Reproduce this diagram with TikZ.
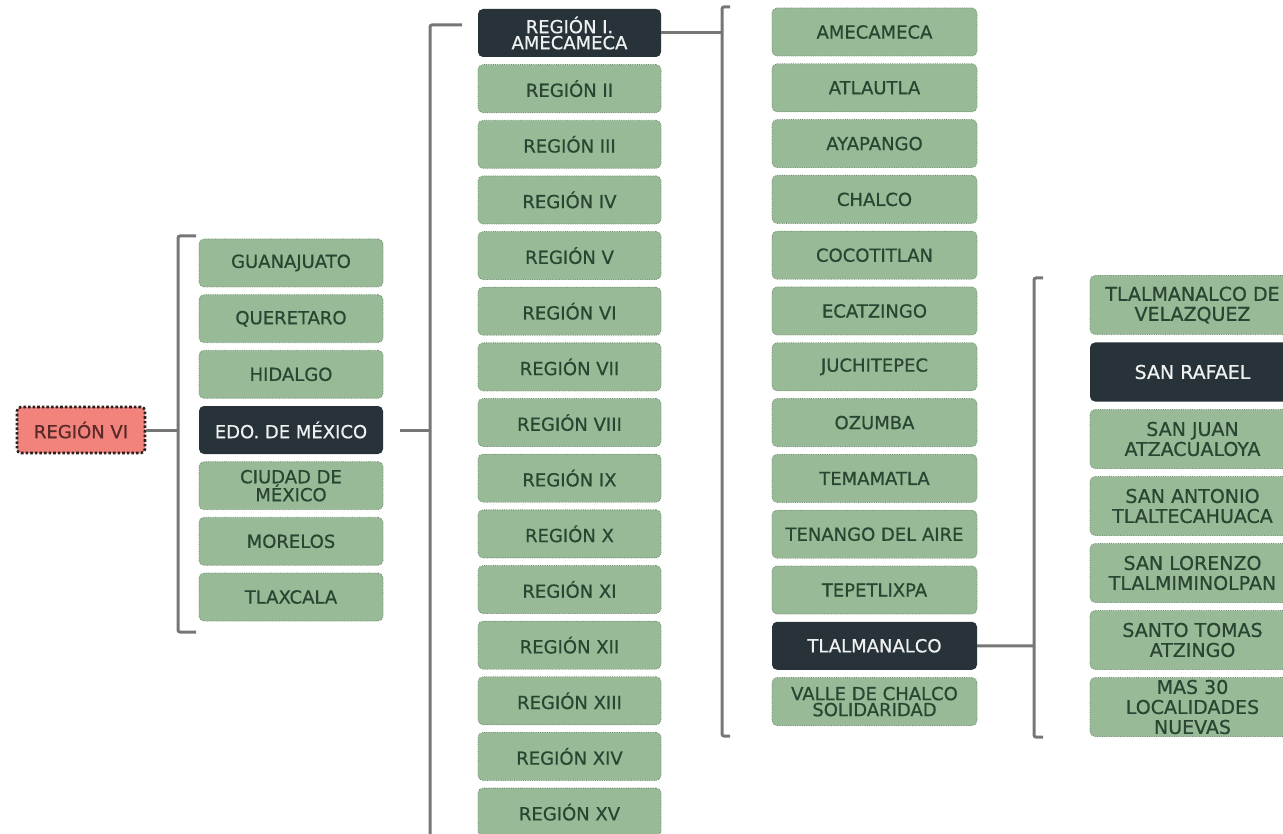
\documentclass[tikz,border=0pt]{standalone}
\usepackage{fontspec}
\setmainfont{DejaVu Sans}
\newfontfamily\boxfont{DejaVu Sans}[FakeBold=0.7]
\usepackage{tikz}
\usepackage{xcolor}
\usetikzlibrary{positioning,calc}
\definecolor{leafbg}{HTML}{99BA97}
\definecolor{leafline}{HTML}{6F8E6E}
\definecolor{leafink}{HTML}{2A4632}
\definecolor{hubbg}{HTML}{273239}
\definecolor{hubink}{HTML}{EEF1F0}
\definecolor{rootbg}{HTML}{F2827C}
\definecolor{rootline}{HTML}{2A2220}
\definecolor{rootink}{HTML}{5A2A28}
\definecolor{linkgray}{HTML}{767676}
\tikzset{
  leafbox/.style={draw=leafline,fill=leafbg,densely dotted,line width=0.8pt,
                  rounded corners=5pt,align=center,inner sep=0pt,
                  minimum height=48pt,text=leafink,
                  font=\boxfont\fontsize{18}{16}\selectfont},
  hubbox/.style={draw=none,fill=hubbg,rounded corners=5pt,align=center,
                 inner sep=0pt,minimum height=48pt,text=hubink,
                 font=\boxfont\fontsize{18}{16}\selectfont},
  rootbox/.style={draw=rootline,fill=rootbg,dotted,line width=2.6pt,
                  rounded corners=4pt,align=center,inner sep=0pt,
                  minimum width=128pt,minimum height=46pt,text=rootink,
                  font=\boxfont\fontsize{18}{16}\selectfont},
  stateW/.style={minimum width=184pt},
  regW/.style={minimum width=183pt},
  munW/.style={minimum width=205pt},
  locW/.style={minimum width=205pt,minimum height=59pt,
               font=\boxfont\fontsize{19}{20}\selectfont},
  link/.style={draw=linkgray,line width=3pt},
  bracket/.style={draw=linkgray,line width=3pt,rounded corners=2pt}
}

\begin{document}
\begin{tikzpicture}[x=1pt,y=-1pt]
  \useasboundingbox (0,0) rectangle (1283,834);
  \clip (0,0) rectangle (1283,834);

  % Root
  \node[rootbox] (reg6) at (81,430) {REGIÓN VI};

  % States
  \node[leafbox,stateW] (gto) at (291,263) {GUANAJUATO};
  \node[leafbox,stateW] (qro) at (291,318.7) {QUERETARO};
  \node[leafbox,stateW] (hgo) at (291,374.3) {HIDALGO};
  \node[hubbox,stateW] (edomex) at (291,430) {EDO. DE MÉXICO};
  \node[leafbox,stateW] (cdmx) at (291,485.7) {CIUDAD DE\\MÉXICO};
  \node[leafbox,stateW] (mor) at (291,541.3) {MORELOS};
  \node[leafbox,stateW] (tlax) at (291,597) {TLAXCALA};

  % Regions of Edo. de México
  \node[hubbox,regW] (r1) at (569.5,33) {REGIÓN I.\\AMECAMECA};
  \node[leafbox,regW] (r2) at (569.5,88.65) {REGIÓN II};
  \node[leafbox,regW] (r3) at (569.5,144.3) {REGIÓN III};
  \node[leafbox,regW] (r4) at (569.5,199.95) {REGIÓN IV};
  \node[leafbox,regW] (r5) at (569.5,255.6) {REGIÓN V};
  \node[leafbox,regW] (r6) at (569.5,311.25) {REGIÓN VI};
  \node[leafbox,regW] (r7) at (569.5,366.9) {REGIÓN VII};
  \node[leafbox,regW] (r8) at (569.5,422.55) {REGIÓN VIII};
  \node[leafbox,regW] (r9) at (569.5,478.2) {REGIÓN IX};
  \node[leafbox,regW] (r10) at (569.5,533.85) {REGIÓN X};
  \node[leafbox,regW] (r11) at (569.5,589.5) {REGIÓN XI};
  \node[leafbox,regW] (r12) at (569.5,645.15) {REGIÓN XII};
  \node[leafbox,regW] (r13) at (569.5,700.8) {REGIÓN XIII};
  \node[leafbox,regW] (r14) at (569.5,756.45) {REGIÓN XIV};
  \node[leafbox,regW] (r15) at (569.5,812.1) {REGIÓN XV};

  % Municipalities of Región I
  \node[leafbox,munW] (m1) at (874.5,32) {AMECAMECA};
  \node[leafbox,munW] (m2) at (874.5,87.8) {ATLAUTLA};
  \node[leafbox,munW] (m3) at (874.5,143.6) {AYAPANGO};
  \node[leafbox,munW] (m4) at (874.5,199.4) {CHALCO};
  \node[leafbox,munW] (m5) at (874.5,255.2) {COCOTITLAN};
  \node[leafbox,munW] (m6) at (874.5,311) {ECATZINGO};
  \node[leafbox,munW] (m7) at (874.5,366.8) {JUCHITEPEC};
  \node[leafbox,munW] (m8) at (874.5,422.6) {OZUMBA};
  \node[leafbox,munW] (m9) at (874.5,478.4) {TEMAMATLA};
  \node[leafbox,munW] (m10) at (874.5,534.2) {TENANGO DEL AIRE};
  \node[leafbox,munW] (m11) at (874.5,590) {TEPETLIXPA};
  \node[hubbox,munW] (m12) at (874.5,645.8) {TLALMANALCO};
  \node[leafbox,munW] (m13) at (874.5,701.6) {VALLE DE CHALCO\\SOLIDARIDAD};

  % Localities of Tlalmanalco
  \node[leafbox,locW] (l1) at (1192.5,305) {TLALMANALCO DE\\VELAZQUEZ};
  \node[hubbox,locW] (l2) at (1192.5,372) {SAN RAFAEL};
  \node[leafbox,locW] (l3) at (1192.5,439) {SAN JUAN\\ATZACUALOYA};
  \node[leafbox,locW] (l4) at (1192.5,506) {SAN ANTONIO\\TLALTECAHUACA};
  \node[leafbox,locW] (l5) at (1192.5,573) {SAN LORENZO\\TLALMIMINOLPAN};
  \node[leafbox,locW] (l6) at (1192.5,640) {SANTO TOMAS\\ATZINGO};
  \node[leafbox,locW] (l7) at (1192.5,707) {MAS 30\\LOCALIDADES\\NUEVAS};

  % Brackets
  \coordinate (b1) at (178,430);
  \coordinate (b2) at (430,430);
  \coordinate (b3) at (722,33);
  \coordinate (b4) at (1034,646);
  \draw[bracket] (196,236) -- (178,236) -- (178,632) -- (196,632);
  \draw[bracket] (462,25) -- (430,25) -- (430,850) -- (462,850);
  \draw[bracket] (730,7) -- (722,7) -- (722,736) -- (730,736);
  \draw[bracket] (1043,278) -- (1034,278) -- (1034,737) -- (1043,737);

  % Links into the brackets
  \draw[link] (reg6.east) -- (b1);
  \draw[link] ([xshift=17pt]edomex.east) -- (b2);
  \draw[link] (r1.east) -- (b3);
  \draw[link] (m12.east) -- (b4);
\end{tikzpicture}
\end{document}
